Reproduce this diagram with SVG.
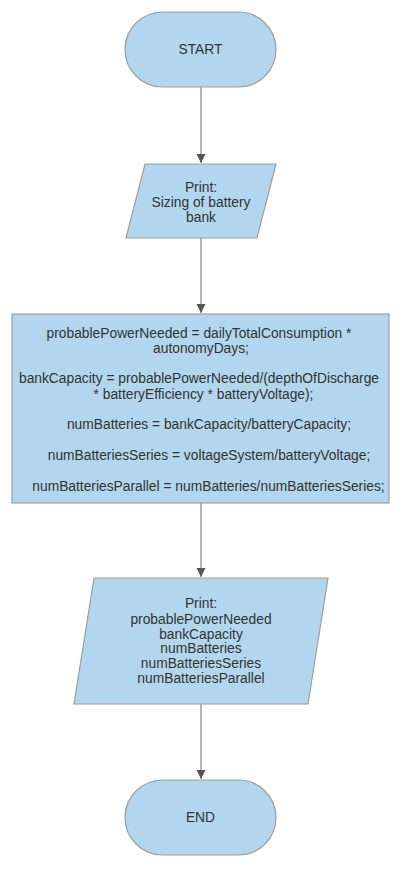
<svg xmlns="http://www.w3.org/2000/svg" width="402" height="869" viewBox="0 0 402 869">
<style>
.shape{fill:#b1d6ee;stroke:#9e9e9e;stroke-width:1.2}
.t{font-family:"Liberation Sans",Arial,sans-serif;font-size:13.8px;fill:#333;text-anchor:middle}
.edge{stroke:#9e9e9e;stroke-width:1.5;fill:none}
</style>
<defs>
<marker id="arr" markerWidth="10" markerHeight="10" refX="9" refY="5" orient="auto" markerUnits="userSpaceOnUse">
<path d="M0,0.5 L9,5 L0,9.5 Z" fill="#555"/>
</marker>
</defs>
<rect width="402" height="869" fill="#fff"/>
<g id="edges">
<line class="edge" x1="201" y1="87" x2="201" y2="163" marker-end="url(#arr)"/>
<line class="edge" x1="201" y1="238" x2="201" y2="313" marker-end="url(#arr)"/>
<line class="edge" x1="201" y1="503" x2="201" y2="577" marker-end="url(#arr)"/>
<line class="edge" x1="201" y1="704" x2="201" y2="779" marker-end="url(#arr)"/>
</g>
<g id="start">
<rect class="shape" x="125" y="12" width="151" height="75" rx="37.5" ry="37.5"/>
<text class="t" x="200.5" y="54">START</text>
</g>
<g id="print1">
<polygon class="shape" points="145,164 276,164 257,238 126,238"/>
<text class="t" x="201" y="191.5">Print:</text>
<text class="t" x="201" y="206.5">Sizing of battery</text>
<text class="t" x="201" y="221.5">bank</text>
</g>
<g id="process">
<rect class="shape" x="12" y="314" width="377" height="189"/>
<text class="t" x="199" y="337.5">probablePowerNeeded = dailyTotalConsumption *</text>
<text class="t" x="201" y="352.8">autonomyDays;</text>
<text class="t" x="199" y="383.4">bankCapacity = probablePowerNeeded/(depthOfDischarge</text>
<text class="t" x="203.5" y="398.7">* batteryEfficiency * batteryVoltage);</text>
<text class="t" x="209" y="429.3">numBatteries = bankCapacity/batteryCapacity;</text>
<text class="t" x="209" y="459.9">numBatteriesSeries = voltageSystem/batteryVoltage;</text>
<text class="t" x="208.5" y="490.5">numBatteriesParallel = numBatteries/numBatteriesSeries;</text>
</g>
<g id="print2">
<polygon class="shape" points="94,578 328,578 308,704 74,704"/>
<text class="t" x="201" y="607.5">Print:</text>
<text class="t" x="201" y="623.5">probablePowerNeeded</text>
<text class="t" x="201" y="638.5">bankCapacity</text>
<text class="t" x="201" y="652.5">numBatteries</text>
<text class="t" x="201" y="667.5">numBatteriesSeries</text>
<text class="t" x="201" y="682.5">numBatteriesParallel</text>
</g>
<g id="end">
<rect class="shape" x="125" y="780" width="151" height="75" rx="37.5" ry="37.5"/>
<text class="t" x="200.5" y="822">END</text>
</g>
</svg>
